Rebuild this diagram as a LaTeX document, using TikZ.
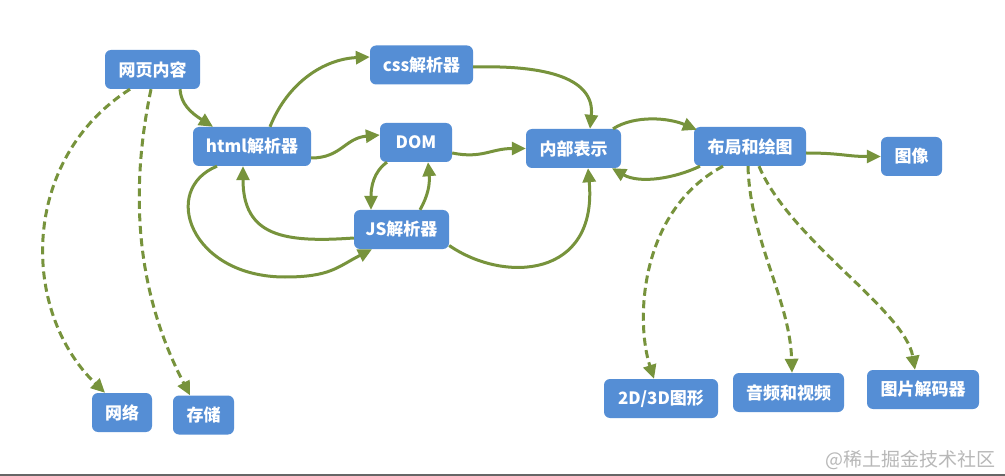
\documentclass[tikz,border=0pt]{standalone}
\usepackage{fontspec}
\newfontfamily\cjk{Noto Sans CJK SC}
\usetikzlibrary{arrows.meta}
\definecolor{boxblue}{HTML}{558ED5}
\definecolor{olive}{HTML}{77933C}
\definecolor{wm}{HTML}{B8B8B8}
\tikzset{
  box/.style={draw=none, fill=boxblue, rounded corners=6pt, text=white,
    font=\cjk\bfseries\fontsize{17}{17}\selectfont, minimum height=39pt,
    inner xsep=2pt, inner ysep=0pt, anchor=center},
  conn/.style={draw=olive, line width=3pt, -{Triangle[length=14pt,width=13pt]}},
  dconn/.style={conn, dash pattern=on 8pt off 4.5pt}
}
\begin{document}
\begin{tikzpicture}[x=1pt,y=-1pt]
\useasboundingbox (0,0) rectangle (1005,476);
\fill[white] (0,0) rectangle (1005,476);
\fill[black!60] (0,473.5) rectangle (1005,476);

\node[box, minimum width=95pt]  (web)    at (152.5,69.5) {网页内容};
\node[box, minimum width=103pt] (css)    at (421.5,65)   {css解析器};
\node[box, minimum width=118pt] (html)   at (252,146.5)  {html解析器};
\node[box, minimum width=72pt]  (dom)    at (416,142.5)  {DOM};
\node[box, minimum width=95pt]  (js)     at (401.5,229.5){JS解析器};
\node[box, minimum width=95pt]  (repr)   at (573.5,148.5){内部表示};
\node[box, minimum width=112pt] (layout) at (750,146.5)  {布局和绘图};
\node[box, minimum width=61pt]  (img)    at (911.5,156.5){图像};
\node[box, minimum width=114pt] (g2d)    at (661,398.5)  {2D/3D图形};
\node[box, minimum width=111pt] (av)     at (788.5,392.5){音频和视频};
\node[box, minimum width=112pt] (dec)    at (923,389.5)  {图片解码器};
\node[box, minimum width=60pt]  (net)    at (122,412.5)  {网络};
\node[box, minimum width=61pt]  (store)  at (203.5,415)  {存储};

\node[text=wm, font=\cjk\fontsize{19}{19}\selectfont, anchor=east] (wmark) at (999,460) {@稀土掘金技术社区};

\coordinate (w9) at (285,277);

% solid connectors
\draw[conn] ([xshift=27.5pt]web.south) .. controls +(1,15) and +(-22,-14) .. ([xshift=-39pt]html.north);
\draw[conn] ([xshift=18pt]html.north) .. controls +(18,-45) and +(-45,2) .. ([yshift=8pt]css.west);
\draw[conn] ([yshift=-11.5pt]html.east) .. controls +(30,0) and +(-35,3) .. ([yshift=7.5pt]dom.west);
\draw[conn] ([yshift=-2pt]css.east) .. controls +(75,-2) and +(5,-50) .. ([xshift=16.5pt]repr.north);
\draw[conn] ([yshift=-10.5pt]dom.east) .. controls +(30,6) and +(-35,0) .. (repr.west);
\draw[conn] ([xshift=39.5pt]repr.north) .. controls +(22,-14) and +(-28,-12) .. ([xshift=3pt,yshift=-3pt]layout.north west);
\draw[conn] ([xshift=-50pt]layout.south) .. controls +(-25,12) and +(28,16) .. ([xshift=38.5pt]repr.south);
\draw[conn] ([yshift=-6.5pt]layout.east) .. controls +(35,0) and +(-35,0) .. (img.west);
\draw[conn] ([xshift=-35pt]html.south) .. controls +(-57,23) and +(-95,0) .. (w9) .. controls +(45,0) and +(-35,18) .. ([xshift=-29.5pt]js.south);
\draw[conn] ([yshift=-8.5pt]js.west) .. controls +(-70,5) and +(0,70) .. ([xshift=-9pt]html.south);
\draw[conn] ([xshift=-29pt]dom.south) .. controls +(-14,10) and +(0,-22) .. ([xshift=-30.5pt]js.north);
\draw[conn] ([xshift=18.5pt]js.north) .. controls +(8,-14) and +(2,22) .. ([xshift=12pt]dom.south);
\draw[conn] ([yshift=-16pt]js.east) .. controls +(55,38) and +(10,110) .. ([xshift=14.5pt]repr.south);

% dashed connectors
\draw[dconn] ([xshift=-22.5pt]web.south) .. controls +(-110,70) and +(-85,-82) .. ([xshift=-17pt]net.north);
\draw[dconn] ([xshift=-1.5pt]web.south) .. controls +(-21,101) and +(-55,-106) .. ([xshift=-13.5pt]store.north);
\draw[dconn] ([xshift=-27pt]layout.south) .. controls +(-83,44) and +(-19,-59) .. ([xshift=-7pt]g2d.north);
\draw[dconn] ([xshift=-2pt]layout.south) .. controls +(2,74) and +(-2,-73) .. ([xshift=3.5pt]av.north);
\draw[dconn] ([xshift=9pt]layout.south) .. controls +(31,74) and +(-10,-60) .. ([xshift=-8pt]dec.north);
\end{tikzpicture}
\end{document}
